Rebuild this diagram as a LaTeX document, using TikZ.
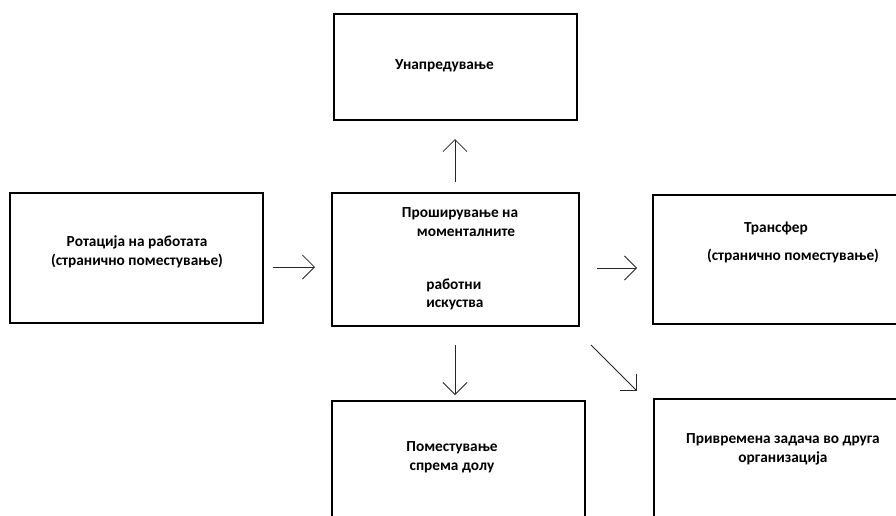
\documentclass[tikz,border=0pt]{standalone}
\usepackage{fontspec}
\setmainfont{Carlito}
\usetikzlibrary{arrows.meta}
\tikzset{
  box/.style={draw=black, line width=0.9pt, rectangle, inner sep=0pt},
  lbl/.style={font=\fontsize{11.5pt}{14pt}\selectfont\bfseries, inner sep=0pt, text=black},
  arr/.style={-{Straight Barb[length=9pt,width=18pt]}, line width=0.55pt, color=black!85}
}

\begin{document}
\begin{tikzpicture}[x=0.75pt,y=-0.75pt]
\clip (0,0) rectangle (896,515);
\fill[white] (0,0) rectangle (896,515);
% boxes
\node[box, minimum width=182.25pt, minimum height=79.5pt] (UNAP) at (455.5,67) {};
\node[box, minimum width=189.75pt, minimum height=97.5pt] (ROT) at (136.5,258) {};
\node[box, minimum width=185.25pt, minimum height=99.75pt] (PROSH) at (455.5,259.5) {};
\node[box, minimum width=189.75pt, minimum height=96.75pt] (TRANS) at (779.5,259.5) {};
\node[box, minimum width=189.75pt, minimum height=97.5pt] (POM) at (458.5,466) {};
\node[box, minimum width=189.75pt, minimum height=97.5pt] (PRIV) at (780.5,464) {};

% texts
\node[lbl] (unaptxt) at (444.5,66) {Унапредување};
\node[lbl, align=center] (rottxt) at (137,252) {Ротација на работата\\(странично поместување)};
\node[lbl, align=center] (proshtxt) at (460,222) {Проширување на\\ \hspace{9pt}моменталните};
\node[lbl, align=left, anchor=west] (iskutxt) at (426,294.5) {работни\\искуства};
\node[lbl] (transtxt) at (776,228) {Трансфер};
\node[lbl] (transsub) at (793,256) {(странично поместување)};
\node[lbl, align=center] (pomtxt) at (452,457.5) {Поместување\\спрема долу};
\node[lbl, align=center] (privtxt) at (783,449) {Привремена задача во друга\\организација};

% arrows
\coordinate (upA) at (455,182);
\coordinate (upB) at (455,139);
\coordinate (leftA) at (273,267);
\coordinate (leftB) at (315,267);
\coordinate (rightA) at (597,268);
\coordinate (rightB) at (637,268);
\coordinate (downA) at (455,345);
\coordinate (downB) at (455,395);
\coordinate (diagA) at (591,345);
\coordinate (diagB) at (637,391);
\draw[arr] (upA) -- (upB);
\draw[arr] (leftA) -- (leftB);
\draw[arr] (rightA) -- (rightB);
\draw[arr] (downA) -- (downB);
\draw[arr] (diagA) -- (diagB);
\end{tikzpicture}
\end{document}
